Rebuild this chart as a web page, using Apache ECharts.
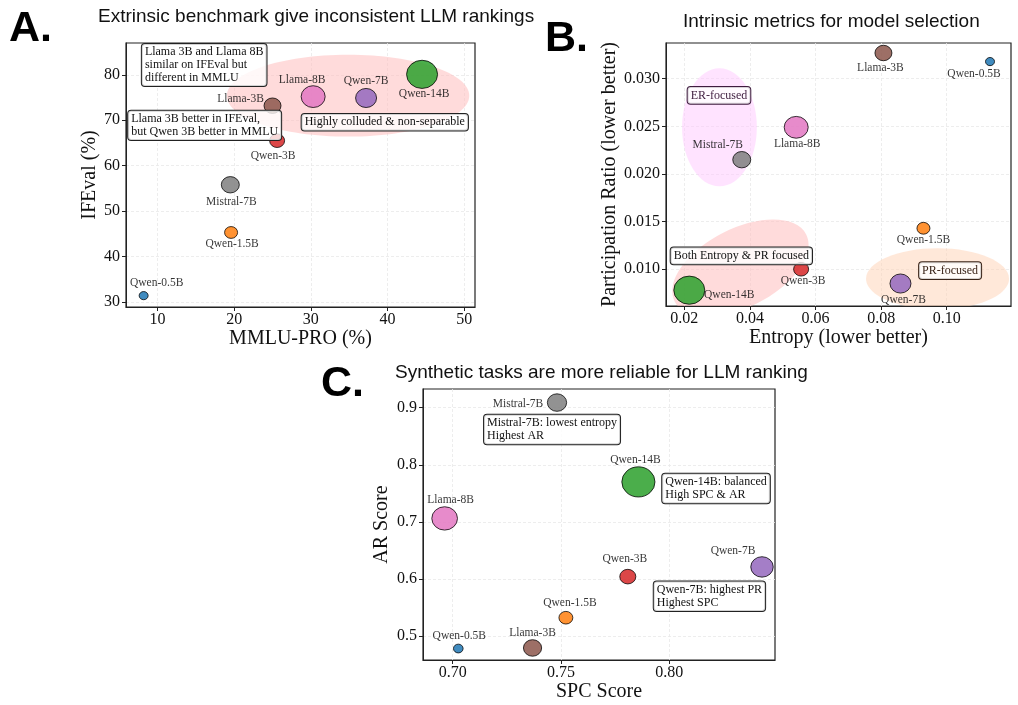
<!DOCTYPE html>
<html>
<head>
<meta charset="utf-8">
<script src="https://cdn.jsdelivr.net/npm/echarts@6/dist/echarts.min.js"></script>
<style>
  html, body { margin: 0; padding: 0; background: #fff; }
  #chart { width: 1018px; height: 705px; }
</style>
</head>
<body>
<div id="chart"></div>
<script>
// models, same order in every panel
const models = ['Qwen-0.5B', 'Qwen-1.5B', 'Qwen-3B', 'Qwen-7B', 'Qwen-14B', 'Llama-3B', 'Llama-8B', 'Mistral-7B']
const colors = ['#1f77b4', '#ff7f0e', '#d62728', '#9467bd', '#2ca02c', '#8c564b', '#e377c2', '#7f7f7f']
const markerW = [9, 13, 15, 21, 31, 17, 24, 18]

// panel A
const mmluPro = [8.2, 19.6, 25.6, 37.2, 44.5, 25.0, 30.3, 19.5]
const ifeval = [31.4, 45.3, 65.5, 74.9, 80.1, 73.2, 75.2, 55.8]
// panel B
const entropy = [0.1132, 0.0929, 0.0556, 0.0859, 0.0215, 0.0807, 0.0541, 0.0375]
const partRatio = [0.0318, 0.0143, 0.0100, 0.0085, 0.0078, 0.0327, 0.0249, 0.0215]
// panel C
const spcScore = [0.7026, 0.7523, 0.7809, 0.8429, 0.7858, 0.7369, 0.6963, 0.7482]
const arScore = [0.478, 0.532, 0.604, 0.621, 0.770, 0.479, 0.706, 0.909]

// tick labels
const ticksAx = [10, 20, 30, 40, 50]
const ticksAy = [30, 40, 50, 60, 70, 80]
const ticksBx = [0.02, 0.04, 0.06, 0.08, 0.10]
const ticksBy = [0.010, 0.015, 0.020, 0.025, 0.030]
const ticksCx = [0.70, 0.75, 0.80]
const ticksCy = [0.5, 0.6, 0.7, 0.8, 0.9]

// label placement (px offset from marker centre)
const labelOffA = [[13, -13], [1, 12], [-4, 15], [0, -17], [2, 20], [-32, -7], [-11, -17], [1, 17]]
const labelOffB = [[-16, 12], [0, 12], [2, 12], [3, 16], [40, 5], [-3, 15], [1, 17], [-24, -15]]
const labelOffC = [[1, -13], [4, -15], [-3, -18], [-29, -16], [-3, -22], [0, -15], [6, -18], [-39, 1]]

// highlight regions: centre + radii in data units, tilt in degrees
const regionsA = [
  { c: [34.85, 75.4], r: [15.8, 9.0], tilt: 0, fill: 'rgba(255,190,190,0.55)' }
]
const regionsB = [
  { c: [0.0307, 0.0249], r: [0.0114, 0.0062], tilt: 0, fill: 'rgba(255,200,255,0.5)' },
  { c: [0.0371, 0.01014], r: [0.0225, 0.0041], tilt: 27, fill: 'rgba(255,190,190,0.55)' },
  { c: [0.0972, 0.0090], r: [0.0218, 0.0032], tilt: 0, fill: 'rgba(255,210,180,0.5)' }
]

// text boxes: anchored at top-left corner (data units)
const notesA = [
  { at: [7.97, 86.8], text: 'Llama 3B and Llama 8B\nsimilar on IFEval but\ndifferent in MMLU' },
  { at: [6.18, 72.1], text: 'Llama 3B better in IFEval,\nbut Qwen 3B better in MMLU' },
  { at: [28.8, 71.4], text: 'Highly colluded & non-separable' }
]
const notesB = [
  { at: [0.0210, 0.02913], text: 'ER-focused', color: '#3f1c3f' },
  { at: [0.01583, 0.01227], text: 'Both Entropy & PR focused' },
  { at: [0.09158, 0.01074], text: 'PR-focused', color: '#3a2418' }
]
const notesC = [
  { at: [0.7145, 0.8877], text: 'Mistral-7B: lowest entropy\nHighest AR' },
  { at: [0.7968, 0.7842], text: 'Qwen-14B: balanced\nHigh SPC & AR' },
  { at: [0.7929, 0.5953], text: 'Qwen-7B: highest PR\nHighest SPC' }
]

const SERIF = '"Liberation Serif", "Times New Roman", serif'
const SANS = '"Liberation Sans", Arial, sans-serif'

function makeAxis(idx, min, max, ticks, digits, name, gap, isY) {
  return {
    type: 'value',
    gridIndex: idx,
    min: min,
    max: max,
    name: name,
    nameLocation: 'middle',
    nameGap: gap,
    nameTextStyle: { fontFamily: SERIF, fontSize: 20, color: '#111' },
    axisLine: { show: true, onZero: false, lineStyle: { color: '#222', width: 1 } },
    axisTick: { show: true, length: 4, customValues: ticks, lineStyle: { color: '#222' } },
    axisLabel: {
      customValues: ticks,
      margin: isY ? 6 : 5,
      fontFamily: SERIF,
      fontSize: 16,
      color: '#111',
      formatter: v => digits === null ? String(v) : Number(v).toFixed(digits)
    },
    splitLine: { show: true, lineStyle: { color: '#e9e9e9', type: [3, 2], width: 0.8 } }
  }
}

function scatterSeries(idx, xs, ys, offs, scale) {
  return {
    type: 'scatter',
    xAxisIndex: idx,
    yAxisIndex: idx,
    z: 3,
    data: models.map((m, i) => ({
      name: m,
      value: [xs[i], ys[i]],
      symbolSize: [markerW[i] * scale, markerW[i] * scale / 1.1],
      itemStyle: { color: colors[i] },
      label: { offset: offs[i] }
    })),
    symbol: 'circle',
    itemStyle: { borderColor: '#000', borderWidth: 0.9, opacity: 0.85 },
    label: {
      show: true,
      position: 'inside',
      formatter: '{b}',
      fontFamily: SERIF,
      fontSize: 11.5,
      color: '#111',
      align: 'center',
      verticalAlign: 'middle'
    },
    emphasis: { disabled: true }
  }
}

function regionSeries(idx, regions) {
  return {
    type: 'custom',
    xAxisIndex: idx,
    yAxisIndex: idx,
    z: 1,
    silent: true,
    data: regions.map(r => r.c),
    renderItem: (params, api) => {
      const r = regions[params.dataIndex]
      const c = api.coord([api.value(0), api.value(1)])
      const s = api.size(r.r)
      const cs = params.coordSys
      return {
        type: 'group',
        clipPath: { type: 'rect', shape: { x: cs.x, y: cs.y, width: cs.width, height: cs.height } },
        children: [{
          type: 'ellipse',
          x: c[0],
          y: c[1],
          rotation: r.tilt * Math.PI / 180,
          shape: { cx: 0, cy: 0, rx: s[0], ry: s[1] },
          style: { fill: r.fill }
        }]
      }
    }
  }
}

function noteSeries(idx, notes) {
  return {
    type: 'custom',
    xAxisIndex: idx,
    yAxisIndex: idx,
    z: 5,
    silent: true,
    data: notes.map(n => n.at),
    renderItem: (params, api) => {
      const n = notes[params.dataIndex]
      const p = api.coord([api.value(0), api.value(1)])
      return {
        type: 'text',
        x: p[0],
        y: p[1],
        style: {
          text: n.text,
          fontFamily: SERIF,
          fontSize: 12,
          lineHeight: 12.7,
          fill: n.color || '#111',
          align: 'left',
          verticalAlign: 'top',
          backgroundColor: 'rgba(255,255,255,0.8)',
          borderColor: n.color || '#222',
          borderWidth: 1,
          borderRadius: 3,
          padding: [2, 3, 2, 3]
        }
      }
    }
  }
}

const gridBox = { show: true, borderColor: '#222', borderWidth: 1.2, backgroundColor: 'transparent', containLabel: false }

const option = {
  backgroundColor: '#fff',
  animation: false,
  title: [
    { text: 'A.', left: 4, top: 3, textStyle: { fontFamily: SANS, fontSize: 43, fontWeight: 'bold', color: '#000' } },
    { text: 'Extrinsic benchmark give inconsistent LLM rankings', left: 93, top: 2, textStyle: { fontFamily: SANS, fontSize: 19, fontWeight: 'normal', color: '#111' } },
    { text: 'B.', left: 540, top: 13, textStyle: { fontFamily: SANS, fontSize: 43, fontWeight: 'bold', color: '#000' } },
    { text: 'Intrinsic metrics for model selection', left: 678, top: 7, textStyle: { fontFamily: SANS, fontSize: 19, fontWeight: 'normal', color: '#111' } },
    { text: 'C.', left: 316, top: 358, textStyle: { fontFamily: SANS, fontSize: 43, fontWeight: 'bold', color: '#000' } },
    { text: 'Synthetic tasks are more reliable for LLM ranking', left: 390, top: 358, textStyle: { fontFamily: SANS, fontSize: 19, fontWeight: 'normal', color: '#111' } }
  ],
  grid: [
    Object.assign({ left: 126, top: 43, width: 349, height: 264 }, gridBox),
    Object.assign({ left: 666, top: 43, width: 345, height: 263 }, gridBox),
    Object.assign({ left: 423, top: 389, width: 352, height: 271 }, gridBox)
  ],
  xAxis: [
    makeAxis(0, 5.9, 51.4, ticksAx, null, 'MMLU-PRO (%)', 20, false),
    makeAxis(1, 0.0144, 0.1196, ticksBx, 2, 'Entropy (lower better)', 20, false),
    makeAxis(2, 0.6863, 0.8489, ticksCx, 2, 'SPC Score', 21, false)
  ],
  yAxis: [
    makeAxis(0, 28.9, 87.0, ticksAy, null, 'IFEval (%)', 24, true),
    makeAxis(1, 0.00614, 0.03375, ticksBy, 3, 'Participation Ratio (lower better)', 46, true),
    makeAxis(2, 0.4579, 0.9328, ticksCy, 1, 'AR Score', 31, true)
  ],
  series: [
    regionSeries(0, regionsA),
    scatterSeries(0, mmluPro, ifeval, labelOffA, 1),
    noteSeries(0, notesA),
    regionSeries(1, regionsB),
    scatterSeries(1, entropy, partRatio, labelOffB, 1),
    noteSeries(1, notesB),
    scatterSeries(2, spcScore, arScore, labelOffC, 1.07),
    noteSeries(2, notesC)
  ]
}

const chart = echarts.init(document.getElementById('chart'), null, { renderer: 'canvas' })
chart.setOption(option)
window.addEventListener('resize', () => {
  chart.resize()
})
</script>
</body>
</html>
